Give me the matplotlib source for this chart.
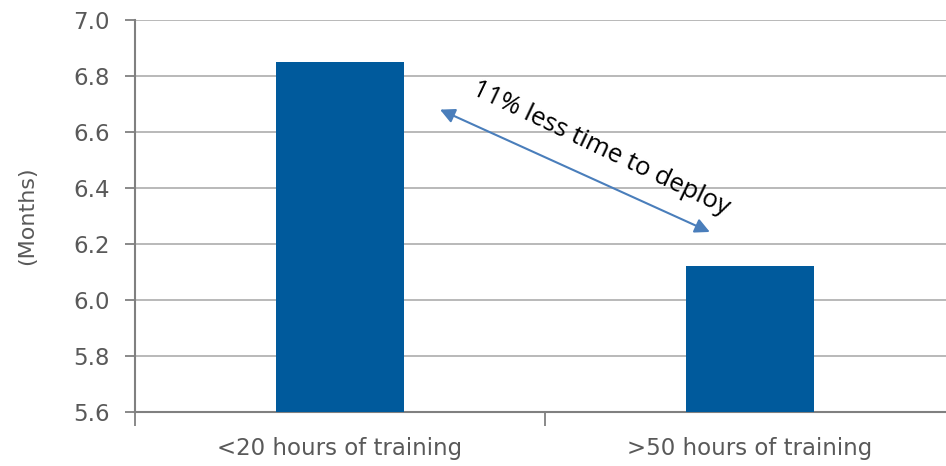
import matplotlib
matplotlib.use("Agg")
import matplotlib.pyplot as plt

categories = ["<20 hours of training", ">50 hours of training"]
months = [6.85, 6.12]
y_ticks = [5.6, 5.8, 6.0, 6.2, 6.4, 6.6, 6.8, 7.0]
note = "11% less time to deploy"

bar_color = "#005a9c"
axis_color = "#808080"
grid_color = "#b3b3b3"
text_color = "#595959"

plt.rcParams["font.family"] = ["DejaVu Sans"]

fig = plt.figure(figsize=(9.46, 4.66), dpi=100)
W, H = 946, 466
left, right, top, bottom = 135, 955, 20, 412
ax = fig.add_axes([left / W, 1 - bottom / H, (right - left) / W, (bottom - top) / H])

x = range(len(categories))
ax.bar(x, months, width=0.31, color=bar_color, zorder=3)

ax.set_xlim(-0.5, len(categories) - 0.5)
ax.set_ylim(y_ticks[0], y_ticks[-1])
ax.set_yticks(y_ticks)
ax.set_yticklabels([f"{v:.1f}" for v in y_ticks], fontsize=16.5, color=text_color)
ax.set_xticks([-0.5, 0.5, 1.5], minor=False)
ax.set_xticklabels([])
ax.set_xticks(list(x), minor=True)
ax.set_xticklabels(categories, minor=True, fontsize=16.5, color=text_color)
ax.tick_params(axis="x", which="minor", length=0, pad=18)
ax.tick_params(axis="x", which="major", length=10, width=1.3, color=axis_color, direction="out")
ax.tick_params(axis="y", length=7, width=1.3, color=axis_color, direction="out", pad=11)

ax.yaxis.grid(True, color=grid_color, linewidth=1.3, zorder=0)
ax.set_axisbelow(True)
for side in ["top", "right"]:
    ax.spines[side].set_visible(False)
for side in ["left", "bottom"]:
    ax.spines[side].set_color(axis_color)
    ax.spines[side].set_linewidth(1.5)

ax.set_ylabel("(Months)", fontsize=16, color=text_color, labelpad=26)

ax.annotate("", xy=(0.244, 6.68), xytext=(0.902, 6.243),
            arrowprops=dict(arrowstyle="<|-|>", color="#4a7ebb", lw=1.5,
                            mutation_scale=22, shrinkA=0, shrinkB=0))
ax.text(0.635, 6.54, note, rotation=-25.5, rotation_mode="anchor",
        ha="center", va="center", fontsize=18.5, color="black",
        family=["Open Sans", "DejaVu Sans"])

fig.savefig("out.png", dpi=100)
